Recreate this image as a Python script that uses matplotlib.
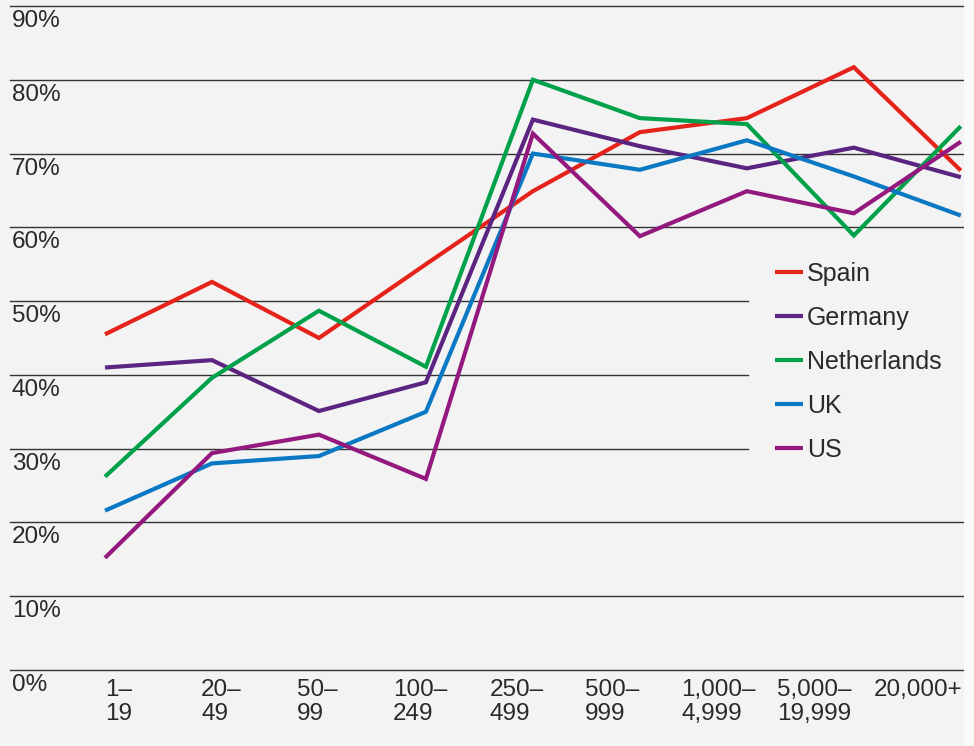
import matplotlib
matplotlib.use("Agg")
import matplotlib.pyplot as plt
from matplotlib.patches import Rectangle

categories = ["1–\n19", "20–\n49", "50–\n99", "100–\n249", "250–\n499",
              "500–\n999", "1,000–\n4,999", "5,000–\n19,999", "20,000+"]
y_ticks = [0, 10, 20, 30, 40, 50, 60, 70, 80, 90]
y_labels = ["0%", "10%", "20%", "30%", "40%", "50%", "60%", "70%", "80%", "90%"]

spain = [45.5, 52.6, 45.0, 55.0, 64.9, 72.9, 74.8, 81.7, 67.7]
germany = [41.0, 42.0, 35.1, 39.0, 74.6, 71.0, 68.0, 70.8, 66.8]
netherlands = [26.2, 39.6, 48.7, 41.1, 80.0, 74.8, 74.0, 58.9, 73.7]
uk = [21.6, 28.0, 29.0, 35.0, 70.0, 67.8, 71.8, 66.9, 61.6]
us = [15.2, 29.4, 31.9, 25.9, 72.7, 58.8, 64.9, 61.9, 71.6]

series = [("Spain", spain, "#e5231b"),
          ("Germany", germany, "#5b2481"),
          ("Netherlands", netherlands, "#00a14b"),
          ("UK", uk, "#0a78c2"),
          ("US", us, "#93197f")]

plt.rcParams['font.family'] = ['Liberation Sans', 'DejaVu Sans']
BG = "#f3f3f3"
TXT = "#2a2a2a"
FS = 17.5

W, H = 974, 746
fig = plt.figure(figsize=(W / 100, H / 100), dpi=100, facecolor=BG)
fig.patches.append(Rectangle((964 / W, 0), 10 / W, 1, transform=fig.transFigure,
                             facecolor="#fafafa", edgecolor="none", zorder=0))

left, right = 10 / W, 964 / W
bottom, top = (H - 670) / H, (H - 6) / H
ax = fig.add_axes([left, bottom, right - left, top - bottom])
ax.set_facecolor(BG)
for s in ax.spines.values():
    s.set_visible(False)

x = list(range(len(categories)))
ax.set_xlim(-0.888, 8.03)
ax.set_ylim(0, 90)

# gridlines (three middle ones stop short of the legend)
for yt in y_ticks:
    ax.axhline(yt, color="#333333", lw=1.0, zorder=1, clip_on=False,
               xmax=(748 - 10) / (964 - 10) if yt in (30, 40, 50) else 1.0)

for name, vals, col in series:
    ax.plot(x, vals, color=col, lw=3.0, label=name, zorder=3,
            solid_joinstyle="miter", solid_capstyle="butt")

ax.set_xticks([])
ax.set_yticks([])

# y labels below each gridline
for yt, lab in zip(y_ticks, y_labels):
    ax.annotate(lab, xy=(0, yt), xycoords=("axes fraction", "data"),
                xytext=(2, -4), textcoords="offset pixels",
                ha="left", va="top", fontsize=FS, color=TXT)

# x labels
for i, lab in enumerate(categories):
    ax.text(0.0996 + 0.1007 * i, -0.013, lab, transform=ax.transAxes,
            ha="left", va="top", fontsize=FS, color=TXT, linespacing=1.12)

leg = ax.legend(loc="upper left",
                bbox_to_anchor=((775 - 10) / 954, (670 - 262) / 664),
                frameon=False, fontsize=FS + 0.5, handlelength=1.12,
                handletextpad=0.16, labelspacing=0.80, borderpad=0,
                borderaxespad=0)
for t in leg.get_texts():
    t.set_color(TXT)
for l in leg.get_lines():
    l.set_linewidth(3.0)
leg.set_zorder(5)

fig.savefig("out.png", dpi=100, facecolor=BG)
